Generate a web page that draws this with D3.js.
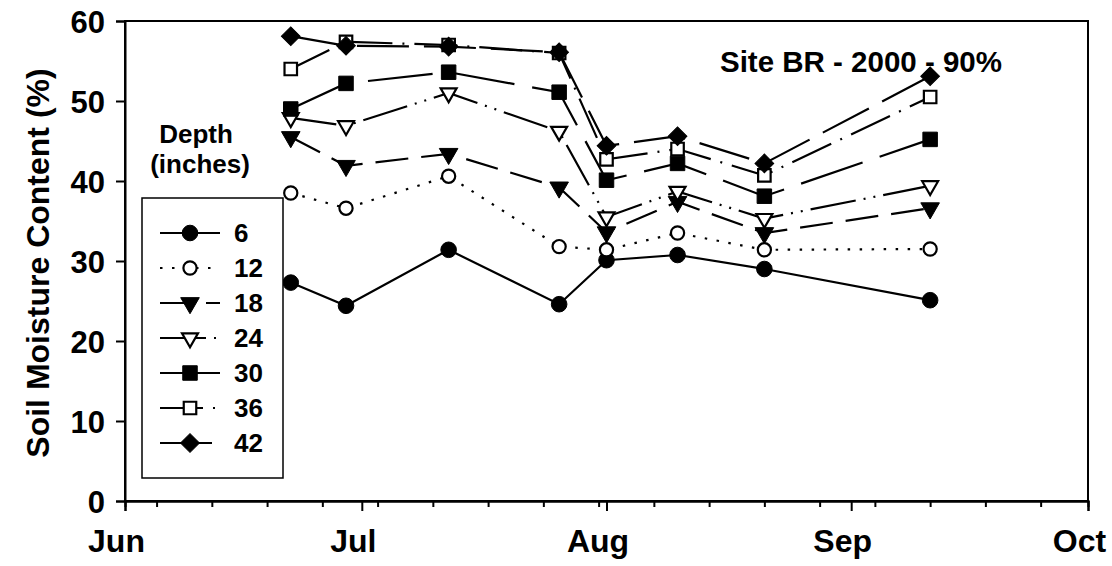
<!DOCTYPE html>
<html>
<head>
<meta charset="utf-8">
<script src="https://cdn.jsdelivr.net/npm/d3@7"></script>
<style>
  body { margin: 0; background: #fff; }
  text { font-family: "Liberation Sans", Arial, sans-serif; font-weight: bold; fill: #000; }
</style>
</head>
<body>
<svg id="chart" width="1112" height="566"></svg>
<script>
// Sampling dates (2000 season)
const sampleDates = ["2000-06-22", "2000-06-29", "2000-07-12", "2000-07-26",
                     "2000-08-01", "2000-08-10", "2000-08-21", "2000-09-11"];

// Soil moisture content (%) by depth in inches
const depth6  = [27.3, 24.4, 31.4, 24.6, 30.1, 30.75, 29.0, 25.1];
const depth12 = [38.5, 36.6, 40.6, 31.8, 31.4, 33.5, 31.4, 31.5];
const depth18 = [45.5, 41.9, 43.4, 39.2, 33.6, 37.4, 33.5, 36.6];
const depth24 = [47.9, 46.9, 51.0, 46.2, 35.5, 38.7, 35.3, 39.4];
const depth30 = [49.0, 52.2, 53.6, 51.1, 40.1, 42.2, 38.1, 45.2];
const depth36 = [54.0, 57.4, 57.0, 56.0, 42.7, 44.0, 40.7, 50.5];
const depth42 = [58.1, 56.9, 56.8, 56.1, 44.4, 45.6, 42.2, 53.1];

const depthLabels = ["6", "12", "18", "24", "30", "36", "42"];
const yTicks = [0, 10, 20, 30, 40, 50, 60];
const monthStarts = ["2000-06-01", "2000-07-01", "2000-08-01", "2000-09-01", "2000-10-01"];
const monthLabels = ["Jun", "Jul", "Aug", "Sep", "Oct"];

const parse = d3.timeParse("%Y-%m-%d");
const dates = sampleDates.map(parse);

const series = [
  { label: depthLabels[0], values: depth6,  shape: "circle",   filled: true,  dash: null },
  { label: depthLabels[1], values: depth12, shape: "circle",   filled: false, dash: "2.5,9.5" },
  { label: depthLabels[2], values: depth18, shape: "triangle", filled: true,  dash: "33,13" },
  { label: depthLabels[3], values: depth24, shape: "triangle", filled: false, dash: "46,8,2,8,2,8" },
  { label: depthLabels[4], values: depth30, shape: "square",   filled: true,  dash: "65,18" },
  { label: depthLabels[5], values: depth36, shape: "square",   filled: false, dash: "43,10,2,10" },
  { label: depthLabels[6], values: depth42, shape: "diamond",  filled: true,  dash: "52,15" }
];

const svg = d3.select("#chart");
const plotLeft = 125, plotRight = 1088, plotTop = 21, plotBottom = 501;

const x = d3.scaleTime()
  .domain([parse(monthStarts[0]), parse(monthStarts[monthStarts.length - 1])])
  .range([plotLeft, plotRight]);
const y = d3.scaleLinear().domain([0, 60]).range([plotBottom, plotTop]);

// Marker shapes
function symbolFor(shape, filled) {
  if (shape === "circle") return d3.symbol(d3.symbolCircle, Math.PI * Math.pow(filled ? 7.8 : 6.6, 2))();
  if (shape === "triangle") return d3.symbol(d3.symbolTriangle, filled ? 150 : 110)();
  if (shape === "square") return d3.symbol(d3.symbolSquare, Math.pow(filled ? 14.5 : 12.5, 2))();
  return d3.symbol(d3.symbolSquare, 175)();
}
function markerTransform(shape, px, py) {
  if (shape === "triangle") return `translate(${px},${py}) rotate(180)`;
  if (shape === "diamond") return `translate(${px},${py}) rotate(45)`;
  return `translate(${px},${py})`;
}

// Frame
svg.append("rect")
  .attr("x", plotLeft).attr("y", plotTop)
  .attr("width", plotRight - plotLeft).attr("height", plotBottom - plotTop)
  .attr("fill", "none").attr("stroke", "#000").attr("stroke-width", 2);

// X axis: weekly minor ticks (Mondays) and monthly major ticks
const xMinor = svg.append("g").attr("transform", `translate(0,${plotBottom})`)
  .call(d3.axisBottom(x).ticks(d3.timeMonday.every(1)).tickSize(6).tickFormat(""));
const xMajor = svg.append("g").attr("transform", `translate(0,${plotBottom})`)
  .call(d3.axisBottom(x).tickValues(monthStarts.map(parse)).tickSize(10)
    .tickFormat((d, i) => monthLabels[i]).tickPadding(18));
[xMinor, xMajor].forEach(g => {
  g.select(".domain").attr("stroke-width", 2);
  g.selectAll(".tick line").attr("stroke-width", 2);
});
xMajor.selectAll(".tick text")
  .attr("font-size", 32).attr("dx", -9)
  .style("font-family", "'Liberation Sans', Arial, sans-serif").style("font-weight", "bold");

// Y axis
const yAxis = svg.append("g").attr("transform", `translate(${plotLeft},0)`)
  .call(d3.axisLeft(y).tickValues(yTicks).tickSize(9).tickPadding(11));
yAxis.select(".domain").attr("stroke-width", 2);
yAxis.selectAll(".tick line").attr("stroke-width", 2);
yAxis.selectAll(".tick text")
  .attr("font-size", 31).attr("dy", "0.36em")
  .style("font-family", "'Liberation Sans', Arial, sans-serif").style("font-weight", "bold");

// Y axis title
svg.append("text")
  .attr("transform", `translate(49,${(plotTop + plotBottom) / 2 + 2}) rotate(-90)`)
  .attr("text-anchor", "middle")
  .attr("font-size", 32)
  .text("Soil Moisture Content (%)");

// Chart title
svg.append("text")
  .attr("x", 1002).attr("y", 72)
  .attr("text-anchor", "end")
  .attr("font-size", 29.5)
  .text("Site BR - 2000 - 90%");

// Series: line then markers, shallowest first
const line = d3.line().x((d, i) => x(dates[i])).y(d => y(d));
series.forEach(s => {
  svg.append("path")
    .attr("d", line(s.values))
    .attr("fill", "none").attr("stroke", "#000").attr("stroke-width", 2.2)
    .attr("stroke-dasharray", s.dash);
  svg.append("g").selectAll("path")
    .data(s.values)
    .join("path")
    .attr("d", symbolFor(s.shape, s.filled))
    .attr("transform", (d, i) => markerTransform(s.shape, x(dates[i]), y(d)))
    .attr("fill", s.filled ? "#000" : "#fff")
    .attr("stroke", "#000").attr("stroke-width", s.filled ? 1 : 2.2);
});

// Legend
const legX = 142, legY = 198, legW = 141, legH = 280;
svg.append("text").attr("x", 196).attr("y", 143).attr("text-anchor", "middle")
  .attr("font-size", 26).text("Depth");
svg.append("text").attr("x", 200).attr("y", 173).attr("text-anchor", "middle")
  .attr("font-size", 26).text("(inches)");
svg.append("rect")
  .attr("x", legX).attr("y", legY).attr("width", legW).attr("height", legH)
  .attr("fill", "#fff").attr("stroke", "#000").attr("stroke-width", 1.5);

series.forEach((s, i) => {
  const ry = 233 + i * 35;
  const g = svg.append("g");
  g.append("line")
    .attr("x1", 160).attr("x2", 220).attr("y1", ry).attr("y2", ry)
    .attr("stroke", "#000").attr("stroke-width", 2.2)
    .attr("stroke-dasharray", s.dash);
  g.append("path")
    .attr("d", symbolFor(s.shape, s.filled))
    .attr("transform", markerTransform(s.shape, 190, ry))
    .attr("fill", s.filled ? "#000" : "#fff")
    .attr("stroke", "#000").attr("stroke-width", s.filled ? 1 : 2.2);
  g.append("text")
    .attr("x", 234).attr("y", ry).attr("dy", "0.36em")
    .attr("font-size", 26)
    .text(s.label);
});
</script>
</body>
</html>
